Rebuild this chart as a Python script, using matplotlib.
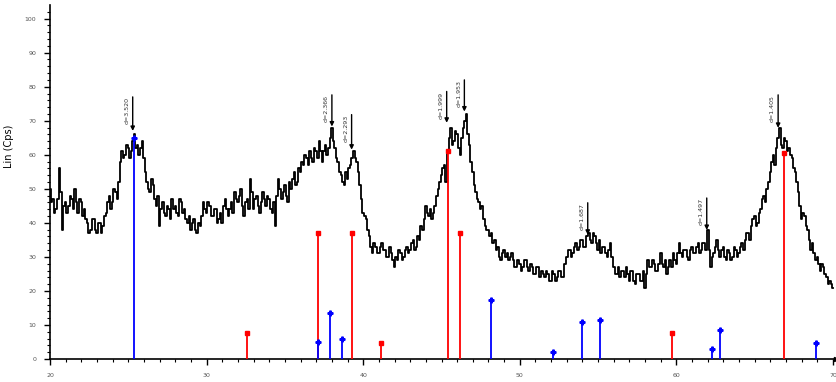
import numpy as np
import matplotlib.pyplot as plt

# measured pattern, 20-70 deg 2theta in 0.1 deg steps (one row per 2 deg)
two_theta = np.round(np.arange(20.0, 70.001, 0.1), 1)
counts = [
    50, 46, 47, 43, 44, 47, 56, 49, 38, 45, 46, 43, 45, 48, 47, 44, 50, 46, 43, 47,
    46, 42, 44, 41, 40, 37, 38, 41, 41, 38, 37, 40, 40, 37, 39, 42, 43, 46, 48, 44,
    46, 50, 49, 47, 52, 58, 61, 59, 60, 63, 62, 59, 61, 64, 66, 62, 63, 60, 62, 64,
    59, 55, 52, 50, 49, 53, 51, 47, 45, 48, 39, 44, 46, 43, 42, 45, 44, 41, 47, 44,
    45, 43, 42, 47, 46, 43, 44, 41, 40, 42, 38, 40, 41, 38, 37, 40, 39, 42, 46, 44,
    43, 46, 45, 42, 42, 44, 44, 40, 41, 43, 40, 45, 47, 44, 42, 44, 46, 43, 49, 47,
    46, 48, 50, 45, 42, 46, 47, 44, 53, 49, 44, 47, 48, 45, 43, 46, 49, 47, 45, 48,
    47, 44, 43, 46, 39, 48, 53, 50, 47, 49, 51, 48, 46, 52, 50, 53, 55, 51, 52, 56,
    55, 58, 57, 60, 59, 57, 61, 59, 58, 62, 61, 59, 64, 61, 58, 61, 63, 60, 62, 65,
    68, 64, 62, 59, 58, 55, 54, 52, 51, 55, 53, 56, 57, 59, 61, 59, 58, 55, 51, 47,
    43, 42, 41, 38, 36, 33, 31, 34, 33, 31, 31, 33, 34, 32, 32, 30, 30, 33, 31, 29,
    27, 30, 29, 32, 31, 29, 30, 32, 33, 31, 32, 34, 35, 32, 33, 36, 35, 39, 38, 41,
    45, 43, 42, 44, 41, 43, 45, 48, 50, 52, 54, 56, 57, 52, 61, 65, 68, 63, 64, 67,
    66, 62, 60, 65, 68, 70, 72, 66, 63, 58, 55, 51, 49, 47, 46, 44, 45, 41, 39, 38,
    38, 36, 37, 34, 35, 32, 33, 30, 29, 31, 32, 30, 31, 29, 30, 31, 29, 27, 27, 29,
    28, 26, 27, 29, 29, 27, 26, 28, 27, 25, 25, 27, 27, 24, 26, 25, 24, 26, 25, 23,
    23, 26, 25, 23, 24, 26, 26, 24, 24, 28, 30, 32, 32, 30, 31, 33, 34, 32, 33, 35,
    35, 33, 33, 36, 37, 35, 34, 37, 36, 34, 32, 35, 31, 33, 33, 31, 30, 32, 34, 30,
    27, 25, 25, 27, 24, 26, 26, 24, 27, 25, 23, 26, 26, 23, 22, 25, 25, 23, 23, 26,
    21, 25, 29, 27, 27, 29, 28, 26, 26, 28, 31, 28, 27, 29, 25, 27, 29, 27, 31, 29,
    28, 31, 34, 31, 30, 32, 32, 30, 29, 32, 33, 31, 31, 33, 34, 31, 32, 34, 34, 32,
    38, 32, 27, 30, 31, 33, 35, 32, 30, 32, 33, 30, 29, 32, 31, 29, 30, 33, 32, 30,
    31, 33, 34, 32, 35, 37, 37, 35, 39, 41, 42, 39, 40, 43, 44, 47, 48, 46, 50, 52,
    55, 58, 60, 57, 62, 65, 68, 63, 62, 65, 64, 61, 62, 60, 59, 56, 55, 52, 49, 45,
    41, 43, 42, 39, 38, 35, 32, 34, 31, 29, 30, 28, 26, 28, 27, 25, 24, 22, 23, 22,
    21,
]
assert len(counts) == len(two_theta)

# reference phases (stick patterns)
red_pos = [32.56, 37.10, 39.27, 41.14, 45.40, 46.18, 59.74, 66.89]
red_int = [7.6, 37, 37, 4.7, 61, 37, 7.5, 60.5]
blue_pos = [25.36, 37.10, 37.88, 38.65, 48.16, 52.10, 53.97, 55.13, 62.27, 62.80, 68.90]
blue_int = [65, 5, 13.5, 6, 17.4, 2, 11, 11.5, 3, 8.5, 4.7]

# labelled peaks: d-spacing, arrow tip and top (counts)
d_spacing = [3.520, 2.366, 2.293, 1.999, 1.953, 1.687, 1.497, 1.405]
arrow_tip = [67, 68.3, 61.5, 69.4, 72.7, 36.5, 37.9, 67.9]
arrow_top = [77, 77.6, 71.8, 78.6, 82, 45.9, 47.3, 77.6]

wavelength = 1.5406  # Cu K-alpha, angstrom


def bragg_angle(d):
    return 2 * np.degrees(np.arcsin(wavelength / (2 * d)))


fig = plt.figure(figsize=(8.36, 3.82), dpi=100)
ax = fig.add_axes([50 / 836, 23 / 382, 786 / 836, 354 / 382])

ax.plot(two_theta, counts, color="black", lw=1.3, drawstyle="steps-mid", zorder=3)

ax.vlines(red_pos, 0, red_int, color="red", lw=1.3, zorder=4)
ax.plot(red_pos, red_int, "s", color="red", ms=3, zorder=4)
ax.vlines(blue_pos, 0, blue_int, color="blue", lw=1.3, zorder=4)
ax.plot(blue_pos, blue_int, "P", color="blue", ms=3.5, zorder=4)

for d, tip, top in zip(d_spacing, arrow_tip, arrow_top):
    x = bragg_angle(d)
    ax.annotate("", xy=(x, tip), xytext=(x, top),
                arrowprops=dict(arrowstyle="-|>", color="black", lw=1.0,
                                mutation_scale=6, shrinkA=0, shrinkB=0),
                zorder=5)
    ax.text(x - 0.2, top, f"d={d:.3f}", rotation=90, ha="right", va="top",
            fontsize=4.5, color="#333333", zorder=5)

ax.set_xlim(20, 70.19)
ax.set_ylim(0, 104)
ax.set_xticks(np.arange(20, 71, 10))
ax.set_xticks(np.arange(20, 71, 1), minor=True)
ax.set_yticks(np.arange(0, 101, 10))
ax.set_yticks(np.arange(0, 104, 2), minor=True)
ax.tick_params(which="major", length=4, width=1, labelsize=4.5,
               labelcolor="#555555", pad=6)
ax.tick_params(which="minor", length=2, width=0.8)

for side in ("top", "right"):
    ax.spines[side].set_visible(False)
for side in ("left", "bottom"):
    ax.spines[side].set_linewidth(1.2)
ax.plot(1, 0, ">", color="black", ms=3, transform=ax.transAxes, clip_on=False)

ax.set_ylabel("Lin (Cps)", fontsize=7)
ax.yaxis.set_label_coords(-0.046, 0.6)

plt.savefig("out.png", dpi=100)
plt.close()
